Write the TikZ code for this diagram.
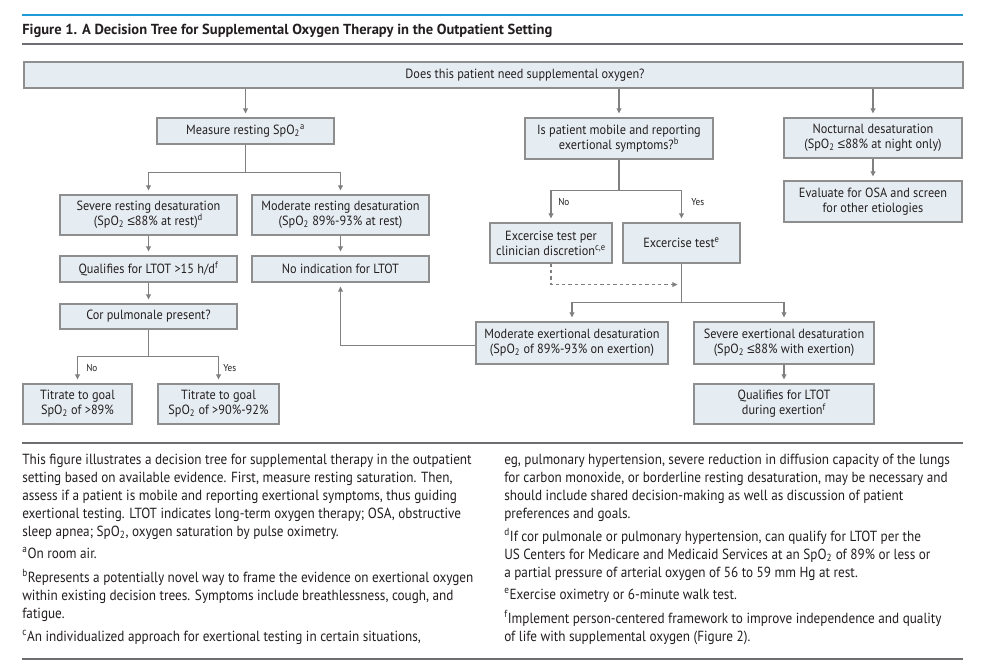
\documentclass[tikz,border=0pt]{standalone}
\usepackage{fontspec}
\setmainfont{PT Sans}
\newfontfamily\capfont[FakeStretch=0.9]{PT Sans}
\newfontfamily\bxfont[FakeStretch=0.92]{PT Sans}
\newfontfamily\ttlfont{PT Sans}
\newfontfamily\lesymfont{Liberation Sans}
\newcommand\myle{{\lesymfont ≤}}
\usetikzlibrary{arrows.meta}
\definecolor{bxfill}{HTML}{E6EDF2}
\definecolor{bxline}{HTML}{8E8E8E}
\definecolor{lnk}{HTML}{808080}
\definecolor{txt}{HTML}{231F20}
\definecolor{jblue}{HTML}{1E9BD7}
\definecolor{rule}{HTML}{6D6E71}
\tikzset{
  bx/.style={draw=bxline, fill=bxfill, line width=0.8pt, inner sep=0pt, align=center, text=txt,
    font=\bxfont\fontsize{10}{11.25}\selectfont},
  bxtext/.style={inner sep=0pt, text=txt, font=\bxfont\fontsize{10}{11.25}\selectfont},
  conn/.style={draw=lnk, line width=0.8pt, -{Triangle[length=3.8pt,width=3.6pt]}, shorten >=3pt},
  plainln/.style={draw=lnk, line width=0.8pt},
  lbl/.style={font=\bxfont\fontsize{7.5}{9}\selectfont, text=txt, inner sep=0pt, anchor=west},
  captxt/.style={font=\capfont\fontsize{11}{13.5}\selectfont, text=txt, inner sep=0pt, anchor=base west},
}
\newcommand\bxat[6]{\node[bx, minimum width={(#4-#2)*0.75pt}, minimum height={(#5-#3)*0.75pt}] (#1) at ({(#2+#4)/2},{(#3+#5)/2}) {#6};}
\begin{document}
\begin{tikzpicture}[x=0.75pt,y=-0.75pt]
\useasboundingbox[fill=white] (0,0) rectangle (1000,671);
% header
\draw[jblue, line width=2pt] (22,15) -- (963,15);
\node[anchor=base west, inner sep=0pt, text=txt, font=\ttlfont\bfseries\fontsize{10.9}{13}\selectfont] (ttl) at (22,34) {Figure 1. A Decision Tree for Supplemental Oxygen Therapy in the Outpatient Setting};
\draw[rule, line width=1pt] (22,44) -- (963,44);
% boxes
\bxat{q0}{24}{62}{963}{88}{}
\node[bxtext] (q0t) at (525,75) {Does this patient need supplemental oxygen?};
\bxat{measure}{157}{118}{334}{144}{Measure resting SpO\textsubscript{2}\textsuperscript{a}}
\bxat{mobile}{525}{118}{713}{159}{Is patient mobile and reporting\\exertional symptoms?\textsuperscript{b}}
\bxat{noct}{784}{118}{962}{158}{Nocturnal desaturation\\(SpO\textsubscript{2} \myle88\% at night only)}
\bxat{evalosa}{784}{181}{962}{222}{Evaluate for OSA and screen\\for other etiologies}
\bxat{sevrest}{60}{195}{237}{235}{Severe resting desaturation\\(SpO\textsubscript{2} \myle88\% at rest)\textsuperscript{d}}
\bxat{modrest}{252}{195}{429}{235}{Moderate resting desaturation\\(SpO\textsubscript{2} 89\%-93\% at rest)}
\bxat{qual}{60}{256}{237}{282}{Qualifies for LTOT >15 h/d\textsuperscript{f}}
\bxat{noind}{252}{256}{429}{282}{No indication for LTOT}
\bxat{cor}{60}{304}{237}{329}{Cor pulmonale present?}
\bxat{tit1}{23}{384}{132}{424}{Titrate to goal\\SpO\textsubscript{2} of >89\%}
\bxat{tit2}{158}{384}{279}{424}{Titrate to goal\\SpO\textsubscript{2} of >90\%-92\%}
\bxat{clin}{490}{223}{612}{263}{Excercise test per\\clinician discretion\textsuperscript{c,e}}
\bxat{ex}{623}{223}{740}{263}{Excercise test\textsuperscript{e}}
\bxat{modex}{476}{322}{668}{364}{Moderate exertional desaturation\\(SpO\textsubscript{2} of 89\%-93\% on exertion)}
\bxat{sevex}{694}{322}{874}{364}{Severe exertional desaturation\\(SpO\textsubscript{2} \myle88\% with exertion)}
\bxat{qualex}{694}{384}{874}{424}{Qualifies for LTOT\\during exertion\textsuperscript{f}}
% connectors
\draw[conn] (q0.south -| measure.north) -- (measure.north);
\draw[conn] (q0.south -| mobile.north) -- (mobile.north);
\draw[conn] (q0.south -| noct.north) -- (noct.north);
\draw[conn] (noct.south) -- (evalosa.north);
\draw[plainln] (measure.south) -- ++(0,28) coordinate (mb1);
\draw[conn] (mb1) -| (sevrest.north);
\draw[conn] (mb1) -| (modrest.north);
\draw[conn] (sevrest.south) -- (qual.north);
\draw[conn] (modrest.south) -- (noind.north);
\draw[conn] (qual.south) -- (cor.north);
\draw[plainln] (cor.south) -- ++(0,27) coordinate (cb1);
\draw[conn] (cb1) -| (tit1.north);
\draw[conn] (cb1) -| (tit2.north);
\node[lbl] (cno) at (86,368) {No};
\node[lbl] (cyes) at (223,368) {Yes};
\draw[plainln] (mobile.south) -- ++(0,31) coordinate (mob1);
\draw[conn] (mob1) -| (clin.north);
\draw[conn] (mob1) -| (ex.north);
\node[lbl] (mno) at (558,202) {No};
\node[lbl] (myes) at (691,202) {Yes};
\path (ex.south) ++(0,21) coordinate (ej);
\draw[conn, dash pattern=on 2.6pt off 2.2pt] (clin.south) |- (ej);
\draw[plainln] (ex.south) -- ++(0,39) coordinate (eb1);
\draw[conn] (eb1) -| (modex.north);
\draw[conn] (eb1) -| (sevex.north);
\draw[conn] (sevex.south) -- (qualex.north);
\draw[conn] ([yshift=-2pt]modex.west) -| (noind.south);
% caption
\draw[rule, line width=0.9pt] (22,443) -- (963,443);
\draw[rule, line width=0.9pt] (22,659) -- (963,659);
\node[captxt] (l1) at (22,464) {This figure illustrates a decision tree for supplemental therapy in the outpatient};
\node[captxt] (l2) at (22,482) {setting based on available evidence. First, measure resting saturation. Then,};
\node[captxt] (l3) at (22,500) {assess if a patient is mobile and reporting exertional symptoms, thus guiding};
\node[captxt] (l4) at (22,518) {exertional testing. LTOT indicates long-term oxygen therapy; OSA, obstructive};
\node[captxt] (l5) at (22,536) {sleep apnea; SpO\textsubscript{2}, oxygen saturation by pulse oximetry.};
\node[captxt] (l6) at (22,558) {\textsuperscript{a}On room air.};
\node[captxt] (l7) at (22,582) {\textsuperscript{b}Represents a potentially novel way to frame the evidence on exertional oxygen};
\node[captxt] (l8) at (22,600) {within existing decision trees. Symptoms include breathlessness, cough, and};
\node[captxt] (l9) at (22,618) {fatigue.};
\node[captxt] (l10) at (22,641) {\textsuperscript{c}An individualized approach for exertional testing in certain situations,};
\node[captxt] (r1) at (504,464) {eg, pulmonary hypertension, severe reduction in diffusion capacity of the lungs};
\node[captxt] (r2) at (504,482) {for carbon monoxide, or borderline resting desaturation, may be necessary and};
\node[captxt] (r3) at (504,500) {should include shared decision-making as well as discussion of patient};
\node[captxt] (r4) at (504,518) {preferences and goals.};
\node[captxt] (r5) at (504,541) {\textsuperscript{d}If cor pulmonale or pulmonary hypertension, can qualify for LTOT per the};
\node[captxt] (r6) at (504,559) {US Centers for Medicare and Medicaid Services at an SpO\textsubscript{2} of 89\% or less or};
\node[captxt] (r7) at (504,577) {a partial pressure of arterial oxygen of 56 to 59 mm Hg at rest.};
\node[captxt] (r8) at (504,599) {\textsuperscript{e}Exercise oximetry or 6-minute walk test.};
\node[captxt] (r9) at (504,623) {\textsuperscript{f}Implement person-centered framework to improve independence and quality};
\node[captxt] (r10) at (504,641) {of life with supplemental oxygen (Figure 2).};
\end{tikzpicture}
\end{document}
